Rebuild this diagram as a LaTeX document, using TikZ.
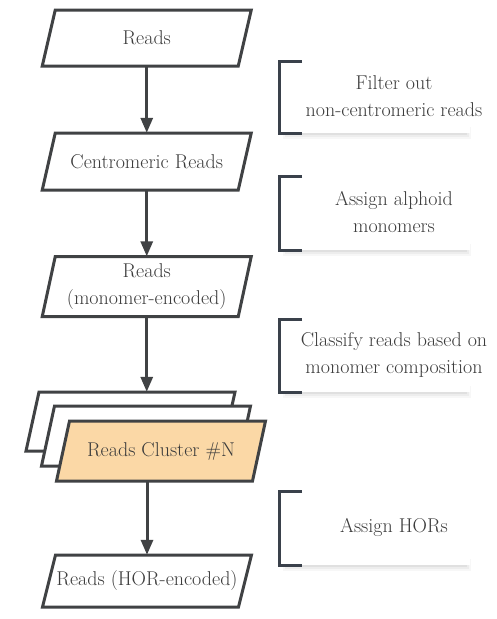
\documentclass[tikz,border=0pt]{standalone}
\usetikzlibrary{arrows.meta}
\definecolor{ln}{HTML}{404244}
\definecolor{brc}{HTML}{3A414B}
\definecolor{tx}{HTML}{3C3C3C}
\definecolor{org}{HTML}{FBD8A6}
\newcommand\pgram[6]{%
  \path[pg,fill=#5] (#2-91.5,#3-#4/2) -- (#2+104.5,#3-#4/2) -- (#2+91.5,#3+#4/2) -- (#2-104.5,#3+#4/2) -- cycle;
  \node[lbl,minimum width=196pt,minimum height=#4pt] (#1) at (#2,#3) {#6};}
\newcommand\bracketbox[4]{%
  \fill[black,opacity=.03] (283,#3-6) rectangle (471,#3+6);
  \fill[black,opacity=.04] (285,#3-4) rectangle (469,#3+4);
  \fill[black,opacity=.05] (287,#3-2) rectangle (467,#3+2);
  \fill[white] (279,#2) rectangle (470,#3);
  \draw[brk] (302,#2) -- (279,#2) -- (279,#3) -- (302,#3);
  \node[lbl] (#1) at (394,{(#2+#3)/2-1}) {#4};}
\begin{document}
\begin{tikzpicture}[x=1pt,y=-1pt,
  pg/.style={draw=ln,line width=3pt,line join=miter},
  lbl/.style={text=tx,font=\rmfamily\fontsize{20}{27}\selectfont,align=center,inner sep=0pt},
  arr/.style={draw=ln,line width=3pt,-{Triangle[width=12pt,length=15pt]}},
  brk/.style={draw=brc,line width=3pt,line join=miter}]
\useasboundingbox[fill=white] (0,0) rectangle (496,619);
% left column
\pgram{r1}{146.75}{38}{56}{white}{Reads}
\pgram{r2}{146.75}{161.5}{57}{white}{Centromeric Reads}
\pgram{r3}{146.75}{286.5}{60}{white}{Reads\\(monomer-encoded)}
\pgram{c1}{130.5}{421.5}{59}{white}{}
\pgram{c2}{146}{436}{60}{white}{}
\pgram{c3}{161}{451}{60}{org}{Reads Cluster \#N}
\pgram{r5}{147}{581}{52}{white}{Reads (HOR-encoded)}
% arrows
\draw[arr] (r1.south) -- (r2.north);
\draw[arr] (r2.south) -- (r3.north);
\draw[arr] (r3.south) -- (r3.south |- c1.north);
\draw[arr] (r5.north |- c3.south) -- (r5.north);
% right column
\bracketbox{s1}{61}{133}{Filter out\\non-centromeric reads}
\bracketbox{s2}{176}{250}{Assign alphoid\\monomers}
\bracketbox{s3}{319}{392}{Classify reads based on\\monomer composition}
\bracketbox{s4}{491}{565}{Assign HORs}
\end{tikzpicture}
\end{document}
